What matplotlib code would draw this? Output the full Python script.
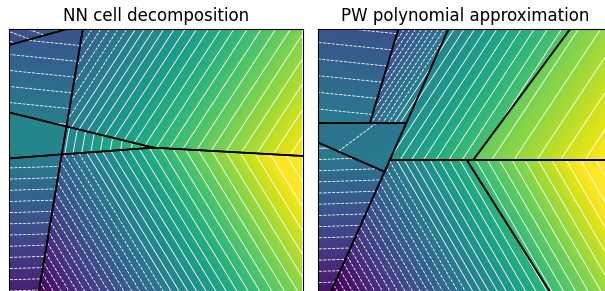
import numpy as np
import matplotlib
matplotlib.use("Agg")
import matplotlib.pyplot as plt
from matplotlib.path import Path
from matplotlib.colors import Normalize

titles = ["NN cell decomposition", "PW polynomial approximation"]

# cell polygons (domain [-1, 1] x [-1, 1]) and the linear piece a*x + b*y + c on each cell
nn_cells = [
    [(-1, 1), (-0.614, 1), (-1, 0.893)],
    [(-1, 0.893), (-0.614, 1), (-0.5, 1), (-0.611, 0.339), (-1, 0.434)],
    [(-0.5, 1), (1, 1), (1, 0.138), (-0.02, 0.195), (-0.611, 0.339)],
    [(-0.611, 0.339), (-0.02, 0.195), (-0.643, 0.149)],
    [(-1, 0.434), (-0.611, 0.339), (-0.643, 0.149), (-1, 0.122)],
    [(-1, 0.122), (-0.643, 0.149), (-0.835, -1), (-1, -1)],
    [(-0.643, 0.149), (-0.02, 0.195), (1, 0.138), (1, -1), (-0.835, -1)],
]
nn_coef = [
    (0.162, 0.441, -0.44),
    (-0.026, -0.257, 0.075),
    (0.338, -0.221, 0.269),
    (0.412, -0.074, 0.310),
    (0.0, 0.0, 0.035),
    (-0.011, 0.368, -0.06),
    (0.456, 0.279, 0.172),
]
nn_density = [1, 1, 1.4, 1.4, 1, 1, 1.15]

pw_cells = [
    [(-1, 1), (-0.456, 1), (-0.648, 0.365), (-1, 0.365)],
    [(-0.456, 1), (-0.116, 1), (-0.400, 0.365), (-0.648, 0.365)],
    [(-0.116, 1), (0.712, 1), (0.054, 0.111), (-0.514, 0.111)],
    [(0.712, 1), (1, 1), (1, 0.111), (0.054, 0.111)],
    [(-1, 0.365), (-0.400, 0.365), (-0.549, 0.031), (-1, 0.229)],
    [(-1, 0.229), (-0.549, 0.031), (-1, -0.976)],
    [(-0.514, 0.111), (0.01, 0.111), (0.711, -1), (-1, -1), (-1, -0.976), (-0.549, 0.031)],
    [(0.01, 0.111), (1, 0.111), (1, -1), (0.711, -1)],
]
pw_coef = [
    (-0.025, -0.247, 0.06),
    (0.515, -0.338, 0.372),
    (0.338, -0.221, 0.289),
    (0.265, -0.176, 0.348),
    (0.044, -0.059, 0.02),
    (-0.012, 0.368, -0.082),
    (0.456, 0.265, 0.184),
    (0.456, 0.265, 0.202),
]
pw_density = [1, 1.4, 1.4, 1.2, 1, 1, 1.2, 1.2]

# contour levels: even spacing below zero, widening above
kneg = np.arange(24, 0, -1)
kpos = np.arange(0, 24)
levels = np.concatenate([-0.028 * kneg, 0.028 * kpos + 0.0008 * kpos ** 2])
norm = Normalize(vmin=-0.42, vmax=0.58)

n = 500
xs = np.linspace(-1, 1, n)
X, Y = np.meshgrid(xs, xs)
pts = np.column_stack([X.ravel(), Y.ravel()])


def on_border(p, q):
    if p[0] == q[0] and abs(p[0]) == 1:
        return True
    if p[1] == q[1] and abs(p[1]) == 1:
        return True
    return False


def draw_panel(ax, cells, coefs, dens, title):
    Z = np.full(X.shape, np.nan)
    masks = []
    for poly, (a, b, c) in zip(cells, coefs):
        inside = Path(poly).contains_points(pts).reshape(X.shape)
        masks.append(inside)
        Z[inside] = (a * X + b * Y + c)[inside]
    ax.imshow(np.ma.masked_invalid(Z), extent=(-1, 1, -1, 1), origin="lower",
              cmap="viridis", norm=norm, aspect="auto", interpolation="nearest")
    for inside, (a, b, c), d in zip(masks, coefs, dens):
        Zc = np.ma.array(a * X + b * Y + c, mask=~inside)
        lv = levels / d
        zmin, zmax = Zc.min(), Zc.max()
        lv = lv[(lv > zmin) & (lv < zmax)]
        if len(lv):
            ax.contour(X, Y, Zc, levels=lv, colors="white", linewidths=0.6)
    for poly in cells:
        for i in range(len(poly)):
            p, q = poly[i], poly[(i + 1) % len(poly)]
            if on_border(p, q):
                continue
            ax.plot([p[0], q[0]], [p[1], q[1]], color="black", lw=1.2)
    ax.set_xlim(-1, 1)
    ax.set_ylim(-1, 1)
    ax.set_xticks([])
    ax.set_yticks([])
    ax.set_title(title, fontsize=12)


fig = plt.figure(figsize=(6.05, 2.91), dpi=100)
ax1 = fig.add_axes([9.3 / 605, -32.3 / 291, 294 / 605, 294 / 291])
ax2 = fig.add_axes([318.3 / 605, -32.3 / 291, 294 / 605, 294 / 291])
draw_panel(ax1, nn_cells, nn_coef, nn_density, titles[0])
draw_panel(ax2, pw_cells, pw_coef, pw_density, titles[1])
fig.savefig("out.png", dpi=100)
